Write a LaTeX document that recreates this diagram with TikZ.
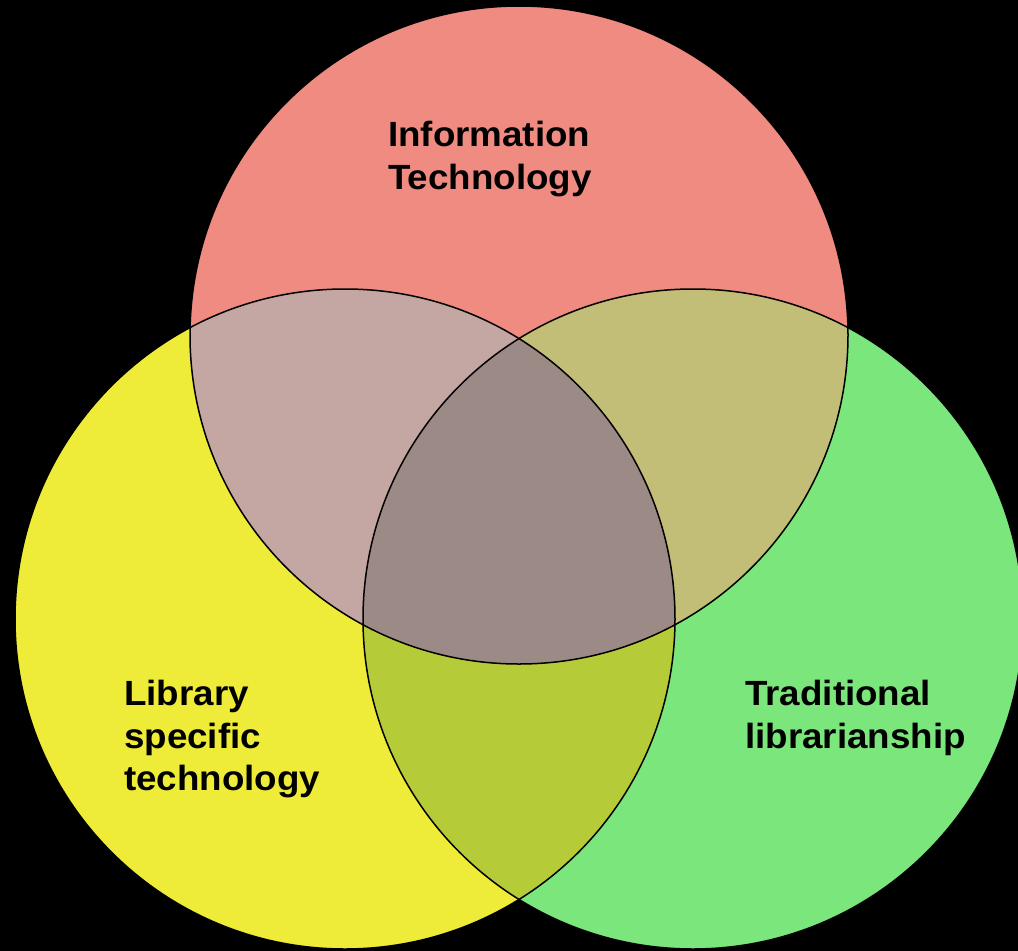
\documentclass[tikz,border=0pt]{standalone}
\usepackage{fontspec}
\setmainfont{Liberation Sans}
\newfontfamily\lblfont{Liberation Sans}[FakeStretch=1.05]
\definecolor{cR}{HTML}{EF8B80}
\definecolor{cY}{HTML}{EEEC38}
\definecolor{cG}{HTML}{7BE67B}
\definecolor{cRY}{HTML}{C4A6A3}
\definecolor{cRG}{HTML}{C2BE78}
\definecolor{cYG}{HTML}{B6CB38}
\definecolor{cC}{HTML}{9C8A87}
\begin{document}
\begin{tikzpicture}[x=1pt,y=-1pt,
  lbl/.style={font=\lblfont\fontsize{35}{42.5}\selectfont\bfseries, align=left, anchor=north west, inner sep=0pt, text=black}]
\fill[black] (0,0) rectangle (1018,951);
\useasboundingbox (0,0) rectangle (1018,951);
\def\Rc{(519,335) circle[radius=329]}
\def\Yc{(345,619) circle[radius=330]}
\def\Gc{(693,619) circle[radius=330]}
\fill[cR] \Rc;
\fill[cY] \Yc;
\fill[cG] \Gc;
\begin{scope}
  \clip \Rc;
  \fill[cRY] \Yc;
  \fill[cRG] \Gc;
\end{scope}
\begin{scope}
  \clip \Yc;
  \fill[cYG] \Gc;
\end{scope}
\begin{scope}
  \clip \Rc;
  \clip \Yc;
  \fill[cC] \Gc;
\end{scope}
\draw[black, line width=1.5pt] \Rc;
\draw[black, line width=1.5pt] \Yc;
\draw[black, line width=1.5pt] \Gc;
\node[lbl] (it) at (388,121) {Information\\Technology};
\node[lbl] (ls) at (124,680) {Library\\specific\\technology};
\node[lbl] (tl) at (745,680) {Traditional\\librarianship};
\end{tikzpicture}
\end{document}
